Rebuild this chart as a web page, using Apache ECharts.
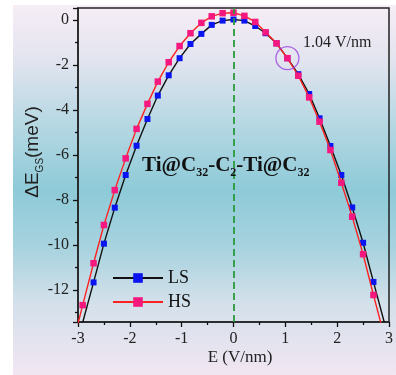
<!DOCTYPE html>
<html><head><meta charset="utf-8">
<script src="https://cdn.jsdelivr.net/npm/echarts@6/dist/echarts.min.js"></script>
<style>html,body{margin:0;padding:0;background:#fff}#c{width:396px;height:375px}</style>
</head><body><div id="c"></div>
<script>
// Field values (V/nm)
var fieldLS = [-2.91,-2.70,-2.50,-2.29,-2.08,-1.87,-1.66,-1.46,-1.25,-1.04,-0.83,-0.62,-0.42,-0.21,0,0.21,0.42,0.62,0.83,1.04,1.25,1.46,1.66,1.87,2.08,2.29,2.50,2.70,2.91];
var energyLS = [-13.44,-11.66,-9.94,-8.34,-6.89,-5.59,-4.40,-3.36,-2.46,-1.70,-1.07,-0.62,-0.22,-0.03,0.02,-0.03,-0.27,-0.59,-1.04,-1.70,-2.41,-3.29,-4.37,-5.60,-6.89,-8.33,-9.90,-11.64,-13.44];
var fieldHS = [-3.12,-2.91,-2.70,-2.50,-2.29,-2.08,-1.87,-1.66,-1.46,-1.25,-1.04,-0.83,-0.62,-0.42,-0.21,0,0.21,0.42,0.62,0.83,1.04,1.25,1.46,1.66,1.87,2.08,2.29,2.50,2.70,2.91];
var energyHS = [-14.60,-12.67,-10.81,-9.11,-7.56,-6.15,-4.84,-3.73,-2.74,-1.88,-1.16,-0.59,-0.13,0.16,0.30,0.32,0.18,-0.09,-0.55,-1.04,-1.70,-2.48,-3.44,-4.52,-5.78,-7.23,-8.74,-10.41,-12.22,-14.05];
var seriesNames = ['LS','HS'];
var highlightPoint = [1.04, -1.70];
var highlightText = '1.04 V/nm';
var xTicks = [-3,-2,-1,0,1,2,3];
var yTicks = [-12,-10,-8,-6,-4,-2,0];

function pairs(xs, ys){ return xs.map(function(x,i){return [x, ys[i]];}); }
var serif = 'Liberation Serif';
var chart = echarts.init(document.getElementById('c'), null, {renderer:'canvas'});
chart.setOption({
  animation:false,
  grid:{left:78,right:5,top:8,bottom:53,show:true,borderColor:'#222',borderWidth:1.5,backgroundColor:'transparent'},
  graphic:[
    {type:'rect',z:-10,silent:true,shape:{x:13,y:5,width:383,height:370},
     style:{fill:{type:'linear',x:0,y:0,x2:0,y2:1,colorStops:[
       {offset:0,color:'#f6edf6'},{offset:0.15,color:'#e2e4ef'},{offset:0.32,color:'#b6d8e3'},
       {offset:0.5,color:'#8ecad8'},{offset:0.66,color:'#a8d3df'},{offset:0.8,color:'#d2e0ea'},{offset:1,color:'#f1e6f2'}]}}},
    {type:'text',z:50,left:142,top:155,silent:true,style:{
      text:'{b|Ti@C}{s|32}{b|-C}{s|2}{b|-Ti@C}{s|32}',
      rich:{b:{fontFamily:serif,fontWeight:'bold',fontSize:21,lineHeight:27,fill:'#111'},
            s:{fontFamily:serif,fontWeight:'bold',fontSize:12,lineHeight:11,verticalAlign:'bottom',fill:'#111'}}}},
    {type:'text',z:50,left:303,top:35,silent:true,style:{text:highlightText,fontFamily:serif,fontSize:16,fill:'#222'}},
    {type:'text',z:50,x:33,y:152,rotation:Math.PI/2,silent:true,style:{
      text:'{a|ΔE}{s|GS}{a|(meV)}',align:'center',verticalAlign:'middle',
      rich:{a:{fontFamily:'Liberation Sans',fontSize:19,lineHeight:24,fill:'#222'},
            s:{fontFamily:'Liberation Sans',fontSize:10,lineHeight:10,verticalAlign:'bottom',fill:'#222'}}}},
    {type:'text',z:50,x:240,y:358,silent:true,style:{text:'E (V/nm)',align:'center',verticalAlign:'middle',fontFamily:serif,fontSize:17,fill:'#222'}}
  ],
  legend:{orient:'vertical',left:107,top:264,itemWidth:50,itemHeight:12,itemGap:6,
    textStyle:{fontFamily:serif,fontSize:18,color:'#111'},
    data:seriesNames},
  xAxis:{type:'value',min:-3,max:3,interval:1,
    axisLine:{show:true,onZero:false,lineStyle:{color:'#222',width:1.5}},
    axisTick:{show:true,inside:false,length:5,lineStyle:{color:'#111',width:1.3}},
    minorTick:{show:true,splitNumber:2,length:3,lineStyle:{color:'#111',width:1.3}},
    splitLine:{show:false},minorSplitLine:{show:false},
    axisLabel:{margin:9,fontFamily:serif,fontSize:16,color:'#222',
      formatter:function(v){return xTicks.indexOf(v)>=0?String(v):'';}}},
  yAxis:{type:'value',min:-13.42,max:0.53,splitNumber:7,
    axisLine:{show:true,onZero:false,lineStyle:{color:'#222',width:1.5}},
    axisTick:{show:true,inside:false,length:5,lineStyle:{color:'#111',width:1.3}},
    minorTick:{show:true,splitNumber:2,length:3,lineStyle:{color:'#111',width:1.3}},
    splitLine:{show:false},minorSplitLine:{show:false},
    axisLabel:{margin:9,fontFamily:serif,fontSize:16,color:'#222',showMinLabel:false,showMaxLabel:false,
      formatter:function(v){return yTicks.indexOf(v)>=0?String(v):'';}}},
  series:[
    {name:'LS',type:'line',data:pairs(fieldLS,energyLS),symbol:'rect',symbolSize:6,
     itemStyle:{color:'#0a14f0'},lineStyle:{color:'#111',width:1.4},z:3,
     markLine:{silent:true,symbol:'none',label:{show:false},
       lineStyle:{color:'#2a9a3a',type:[7,4],width:1.8},data:[{xAxis:0}]}},
    {name:'HS',type:'line',data:pairs(fieldHS,energyHS),symbol:'rect',symbolSize:6.5,
     itemStyle:{color:'#f5187e'},lineStyle:{color:'#ff2222',width:1.4},z:4},
    {name:'mark',type:'scatter',data:[highlightPoint],symbol:'circle',symbolSize:23,
     itemStyle:{color:'rgba(0,0,0,0)',borderColor:'#9b45e6',borderWidth:1.3},z:5,silent:true}
  ]
});
</script></body></html>
